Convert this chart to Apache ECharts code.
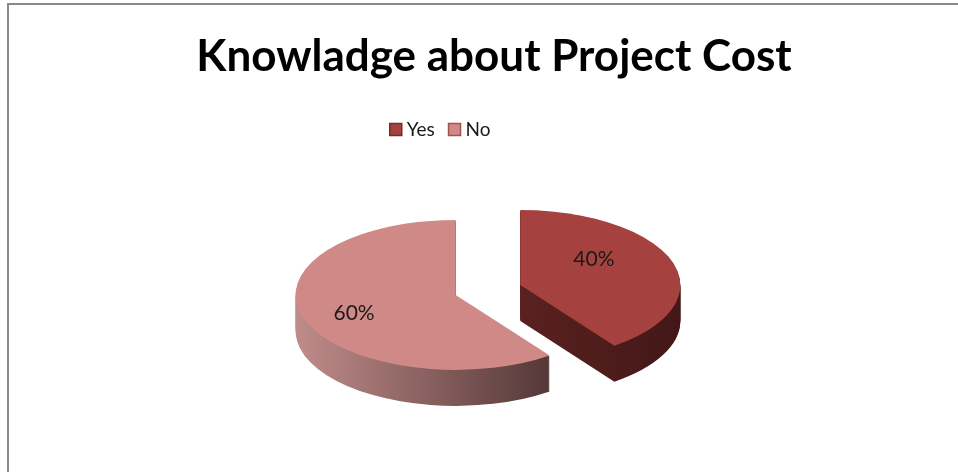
<!DOCTYPE html>
<html><head><meta charset="utf-8">
<script src="https://cdn.jsdelivr.net/npm/echarts@6/dist/echarts.min.js"></script>
<style>html,body{margin:0;padding:0;background:#fff}#c{width:958px;height:472px}</style>
</head><body><div id="c"></div>
<script>
// ---- data ----
const title = 'Knowladge about Project Cost';
const categories = ['Yes', 'No'];
const values = [40, 60];

// ---- styles ----
const TOP_COLORS = ['#A5423F', '#CF8A88'];
const SIDE_GRAD = [['#5A2120', '#421817'], ['#C08C8A', '#553838']];
const LEGEND_BORDER = ['#7A2B29', '#A5504E'];

const total = values.reduce((a, b) => a + b, 0);
const PIE = { cx: 488, cy: 290, r: 160, ratio: 75 / 160, depth: 36, explode: 34,
  labelR: 0.62, labelRot: -10 * Math.PI / 180, labelDx: -14, labelDy: -4 };

function renderItem(params, api) {
  const idx = api.value(0);
  const v = api.value(1);
  let before = 0;
  for (let k = 0; k < idx; k++) before += values[k];
  const start = -Math.PI / 2 + before / total * Math.PI * 2;
  const end = start + v / total * Math.PI * 2;
  const mid = (start + end) / 2;
  const ccx = PIE.cx + PIE.explode * Math.cos(mid);
  const ccy = PIE.cy + PIE.explode * Math.sin(mid) * PIE.ratio;
  const children = [];
  const side = {
    type: 'linear', x: 0, y: 0, x2: 1, y2: 0,
    colorStops: [{ offset: 0, color: SIDE_GRAD[idx][0] }, { offset: 1, color: SIDE_GRAD[idx][1] }]
  };
  for (let d = PIE.depth; d >= 1; d--) {
    children.push({
      type: 'sector', x: ccx, y: ccy + d, scaleY: PIE.ratio,
      shape: { cx: 0, cy: 0, r0: 0, r: PIE.r, startAngle: start, endAngle: end, clockwise: true },
      style: { fill: side }, silent: true
    });
  }
  children.push({
    type: 'sector', x: ccx, y: ccy, scaleY: PIE.ratio,
    shape: { cx: 0, cy: 0, r0: 0, r: PIE.r, startAngle: start, endAngle: end, clockwise: true },
    style: { fill: TOP_COLORS[idx] }
  });
  const la = mid + PIE.labelRot;
  children.push({
    type: 'text',
    x: ccx + PIE.labelR * PIE.r * Math.cos(la) + PIE.labelDx,
    y: ccy + PIE.labelR * PIE.r * PIE.ratio * Math.sin(la) + PIE.labelDy,
    style: {
      text: Math.round(v / total * 100) + '%',
      fill: '#1a1a1a', font: '21px Lato', align: 'center', verticalAlign: 'middle'
    }
  });
  return { type: 'group', children };
}

const chart = echarts.init(document.getElementById('c'), null, { renderer: 'canvas' });
chart.setOption({
  animation: false,
  backgroundColor: '#fff',
  title: {
    text: title, left: 489, top: 30, textAlign: 'center',
    textStyle: { fontFamily: 'Lato', fontWeight: 'bold', fontSize: 44, color: '#000' }
  },
  legend: {
    left: 384, top: 115, icon: 'rect', itemWidth: 12, itemHeight: 12, itemGap: 13,
    textStyle: { fontFamily: 'Lato', fontSize: 19, color: '#1a1a1a' },
    data: categories.map((name, i) => ({ name, itemStyle: { color: TOP_COLORS[i], borderColor: LEGEND_BORDER[i], borderWidth: 1.5 } }))
  },
  graphic: [{
    type: 'rect', shape: { x: 8, y: 4, width: 1000, height: 500 },
    style: { fill: 'none', stroke: '#8a8a8a', lineWidth: 2 }, silent: true
  }],
  series: categories.map((name, i) => ({
    type: 'custom', name, coordinateSystem: 'none',
    itemStyle: { color: TOP_COLORS[i] },
    data: [[i, values[i]]],
    renderItem
  }))
});
</script></body></html>
